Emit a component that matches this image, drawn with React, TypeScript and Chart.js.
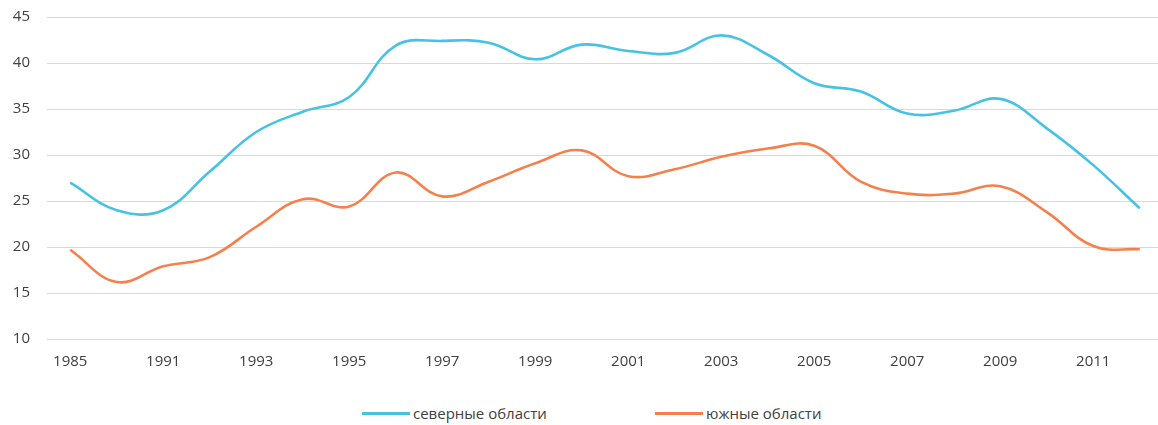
import React, { useEffect, useRef } from "react";
import { Chart, registerables } from "chart.js";

Chart.register(...registerables);

const years = ["1985", "1990", "1991", "1992", "1993", "1994", "1995", "1996", "1997", "1998", "1999", "2000", "2001", "2002", "2003", "2004", "2005", "2006", "2007", "2008", "2009", "2010", "2011", "2012"];
const northern = [27.0, 24.0, 24.0, 28.2, 32.5, 34.7, 36.3, 41.9, 42.4, 42.2, 40.4, 42.0, 41.3, 41.1, 43.0, 40.9, 37.8, 36.9, 34.5, 34.8, 36.1, 32.9, 28.9, 24.2];
const southern = [19.7, 16.2, 17.9, 18.9, 22.2, 25.2, 24.4, 28.1, 25.5, 27.1, 29.1, 30.5, 27.7, 28.45, 29.8, 30.7, 31.0, 27.1, 25.8, 25.8, 26.6, 23.8, 20.1, 19.75];
const seriesNames = ["северные области", "южные области"];
const yTicks = { min: 10, max: 45, step: 5 };

const BLUE = "rgb(69,194,228)";
const ORANGE = "rgb(245,128,75)";
const FONT = "'Open Sans', 'DejaVu Sans', sans-serif";

export default function App() {
  const ref = useRef<HTMLCanvasElement>(null);
  useEffect(() => {
    if (!ref.current) return;
    const chart = new Chart(ref.current, {
      type: "line",
      data: {
        labels: years,
        datasets: [
          { label: seriesNames[0], data: northern, borderColor: BLUE, backgroundColor: BLUE, borderWidth: 2.6, pointRadius: 0, tension: 0.4, fill: false },
          { label: seriesNames[1], data: southern, borderColor: ORANGE, backgroundColor: ORANGE, borderWidth: 2.6, pointRadius: 0, tension: 0.4, fill: false },
        ],
      },
      options: {
        animation: false,
        responsive: false,
        maintainAspectRatio: false,
        layout: { padding: { top: 17, right: 0, bottom: 0, left: 0 } },
        plugins: { legend: { display: false }, tooltip: { enabled: false } },
        scales: {
          x: {
            offset: true,
            grid: { display: false, drawTicks: false },
            border: { display: false },
            ticks: {
              autoSkip: false,
              maxRotation: 0,
              padding: 14,
              color: "#404040",
              font: { family: FONT, size: 15 },
              callback: (_v: any, i: number) => (i % 2 === 0 ? years[i] : ""),
            },
            afterFit: (s: any) => { s.height = 46; },
          },
          y: {
            min: yTicks.min,
            max: yTicks.max,
            grid: { color: "#d9d9d9", lineWidth: 1, drawTicks: false },
            border: { display: false },
            ticks: {
              stepSize: yTicks.step,
              padding: 17,
              color: "#404040",
              font: { family: FONT, size: 15 },
            },
            afterFit: (s: any) => { s.width = 47; s.paddingTop = 0; s.paddingBottom = 0; },
          },
        },
      },
    });
    return () => chart.destroy();
  }, []);

  const legendItem = (color: string, text: string, left: number) => (
    <div style={{ position: "absolute", left, top: 403, height: 20, display: "flex", alignItems: "center", fontFamily: FONT, fontSize: 15, color: "#404040", whiteSpace: "nowrap" }}>
      <span style={{ display: "inline-block", width: 48, height: 3, background: color, marginRight: 3 }} />
      <span>{text}</span>
    </div>
  );

  return (
    <div style={{ position: "absolute", left: 0, top: 0, width: 1158, height: 425, background: "#fff", overflow: "hidden" }}>
      <canvas ref={ref} width={1163} height={385} style={{ display: "block", width: 1163, height: 385 }} />
      {legendItem(BLUE, seriesNames[0], 362)}
      {legendItem(ORANGE, seriesNames[1], 655)}
    </div>
  );
}
